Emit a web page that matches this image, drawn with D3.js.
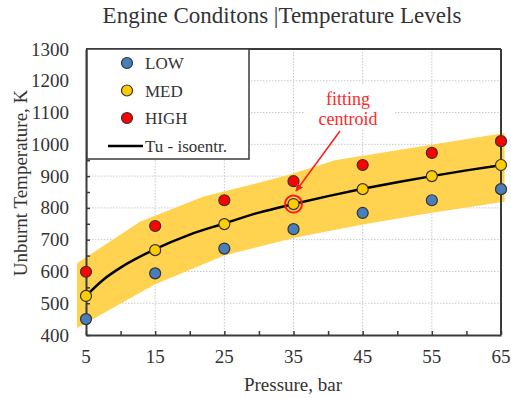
<!DOCTYPE html>
<html>
<head>
<meta charset="utf-8">
<script src="https://cdn.jsdelivr.net/npm/d3@7/dist/d3.min.js"></script>
<style>
  html, body { margin: 0; padding: 0; background: #fff; }
  svg { display: block; }
  text { font-family: "Liberation Serif", "Times New Roman", serif; fill: #333; }
</style>
</head>
<body>
<svg id="chart" width="511" height="398"></svg>
<script>
// Pressure levels (bar)
const pressures = [5, 15, 25, 35, 45, 55, 65];

// Unburnt temperature (K) per engine condition
const lowT  = [450, 594, 672, 733, 784, 824, 859];
const medT  = [523, 667, 749, 812, 859, 900, 935];
const highT = [599, 743, 824, 884, 935, 973, 1010];

// Isentropic compression curve Tu
const curveP = [5, 7.5, 10, 15, 20, 25, 30, 35, 40, 45, 50, 55, 60, 65];
const curveT = [523, 574, 612, 670, 716, 751, 785, 812, 837, 860, 881, 900, 918, 934];

// Scatter band envelope
const bandP     = [3.7, 12.8, 21.9, 28.7, 34.5, 41, 65.5];
const bandUpper = [626, 756, 835, 872, 905, 950, 1036];
const bandLowP  = [3.7, 15, 25, 35, 45, 55, 65.5];
const bandLower = [422, 560, 650, 705, 748, 785, 819];

// Axis ticks
const xTicks = [5, 15, 25, 35, 45, 55, 65];
const yTicks = [400, 500, 600, 700, 800, 900, 1000, 1100, 1200, 1300];

const series = [
  { name: "LOW",  values: lowT,  color: "#4a7ebb" },
  { name: "MED",  values: medT,  color: "#ffcc00" },
  { name: "HIGH", values: highT, color: "#ff0000" }
];

const svg = d3.select("#chart");
const L = 86, R = 501, T = 49, B = 335;

const x = d3.scaleLinear().domain([5, 65]).range([L, R]);
const y = d3.scaleLinear().domain([400, 1300]).range([B, T]);

// Title
svg.append("text")
  .attr("x", 282).attr("y", 23)
  .attr("text-anchor", "middle")
  .style("font-size", "23px")
  .text("Engine Conditons |Temperature Levels");

// Grid (dotted)
const grid = svg.append("g").attr("stroke", "#c8c8c8").attr("stroke-dasharray", "1.5,1.5").attr("stroke-width", 1);
grid.selectAll("line.v").data(xTicks.slice(1, -1)).join("line")
  .attr("x1", d => x(d)).attr("x2", d => x(d)).attr("y1", T).attr("y2", B);
grid.selectAll("line.h").data(yTicks.slice(1, -1)).join("line")
  .attr("x1", L).attr("x2", R).attr("y1", d => y(d)).attr("y2", d => y(d));

// Band
const bandPts = bandP.map((p, i) => [x(p), y(bandUpper[i])])
  .concat(bandLowP.map((p, i) => [x(p), y(bandLower[i])]).reverse());
svg.append("path")
  .attr("d", d3.line().curve(d3.curveLinearClosed)(bandPts))
  .attr("fill", "#ffd24f")
  .attr("stroke", "none");

// Axes
const axisColor = "#3a3a3a";
const xAxis = d3.axisBottom(x).tickValues(d3.range(5, 66, 5)).tickSizeInner(-4).tickSizeOuter(0).tickFormat("");
const gx = svg.append("g").attr("transform", `translate(0,${B})`).call(xAxis);
gx.selectAll("line").attr("stroke", axisColor).attr("stroke-width", 1.5);
gx.select(".domain").attr("stroke", axisColor).attr("stroke-width", 2);

const yAxis = d3.axisLeft(y).tickValues(d3.range(400, 1301, 50)).tickSizeInner(-4).tickSizeOuter(0).tickFormat("");
const gy = svg.append("g").attr("transform", `translate(${L},0)`).call(yAxis);
gy.selectAll("line").attr("stroke", axisColor).attr("stroke-width", 1.5);
gy.select(".domain").attr("stroke", axisColor).attr("stroke-width", 2);

// Frame top/right
svg.append("line").attr("x1", L).attr("x2", R).attr("y1", T).attr("y2", T).attr("stroke", axisColor).attr("stroke-width", 2);
svg.append("line").attr("x1", R).attr("x2", R).attr("y1", T).attr("y2", B).attr("stroke", axisColor).attr("stroke-width", 2);

// Tick labels
svg.append("g").selectAll("text").data(xTicks).join("text")
  .attr("x", d => x(d)).attr("y", 363)
  .attr("text-anchor", "middle")
  .style("font-size", "19px")
  .text(d => d);
svg.append("g").selectAll("text").data(yTicks).join("text")
  .attr("x", 69).attr("y", d => y(d) + 6.5)
  .attr("text-anchor", "end")
  .style("font-size", "19px")
  .text(d => d);

// Axis titles
svg.append("text")
  .attr("x", 293).attr("y", 391)
  .attr("text-anchor", "middle")
  .style("font-size", "19px")
  .text("Pressure, bar");
svg.append("text")
  .attr("transform", "translate(27,183) rotate(-90)")
  .attr("text-anchor", "middle")
  .style("font-size", "19px")
  .text("Unburnt Temperature, K");

// Curve
svg.append("path")
  .datum(curveP.map((p, i) => [p, curveT[i]]))
  .attr("d", d3.line().x(d => x(d[0])).y(d => y(d[1])).curve(d3.curveMonotoneX))
  .attr("fill", "none")
  .attr("stroke", "#000")
  .attr("stroke-width", 2.5);

// Points
series.forEach(s => {
  svg.append("g").selectAll("circle").data(s.values).join("circle")
    .attr("cx", (d, i) => x(pressures[i]))
    .attr("cy", d => y(d))
    .attr("r", 5.5)
    .attr("fill", s.color)
    .attr("stroke", "#333")
    .attr("stroke-width", 1.2);
});

// Centroid annotation
const ci = 3;
svg.append("circle")
  .attr("cx", x(pressures[ci])).attr("cy", y(medT[ci]))
  .attr("r", 8.5)
  .attr("fill", "none")
  .attr("stroke", "#ff1a1a")
  .attr("stroke-width", 2);
svg.append("rect")
  .attr("x", 305).attr("y", 85).attr("width", 90).attr("height", 44)
  .attr("fill", "#fff");
svg.append("text")
  .attr("x", 348).attr("y", 105)
  .attr("text-anchor", "middle")
  .style("font-size", "18px").style("fill", "#ff2a2a")
  .text("fitting");
svg.append("text")
  .attr("x", 348).attr("y", 125)
  .attr("text-anchor", "middle")
  .style("font-size", "18px").style("fill", "#ff2a2a")
  .text("centroid");
svg.append("defs").append("marker")
  .attr("id", "arrowhead").attr("viewBox", "0 0 10 10")
  .attr("refX", 9).attr("refY", 5)
  .attr("markerWidth", 5).attr("markerHeight", 5)
  .attr("orient", "auto")
  .append("path").attr("d", "M0,0 L10,5 L0,10 z").attr("fill", "#ff1a1a");
svg.append("line")
  .attr("x1", 340).attr("y1", 131)
  .attr("x2", 296).attr("y2", 191)
  .attr("stroke", "#ff1a1a").attr("stroke-width", 1.5)
  .attr("marker-end", "url(#arrowhead)");

// Legend
const lg = svg.append("g");
lg.append("rect")
  .attr("x", 87).attr("y", 49).attr("width", 162).attr("height", 110)
  .attr("fill", "#fff").attr("stroke", axisColor).attr("stroke-width", 1.5);
series.forEach((s, i) => {
  const cy = 63 + i * 27.5;
  lg.append("circle").attr("cx", 127).attr("cy", cy).attr("r", 5.5)
    .attr("fill", s.color).attr("stroke", "#333").attr("stroke-width", 1.2);
  lg.append("text").attr("x", 145).attr("y", cy + 6)
    .style("font-size", "17px").text(s.name);
});
lg.append("line").attr("x1", 108).attr("x2", 143).attr("y1", 146).attr("y2", 146)
  .attr("stroke", "#000").attr("stroke-width", 2.5);
lg.append("text").attr("x", 145).attr("y", 152)
  .style("font-size", "17px").text("Tu - isoentr.");
</script>
</body>
</html>
